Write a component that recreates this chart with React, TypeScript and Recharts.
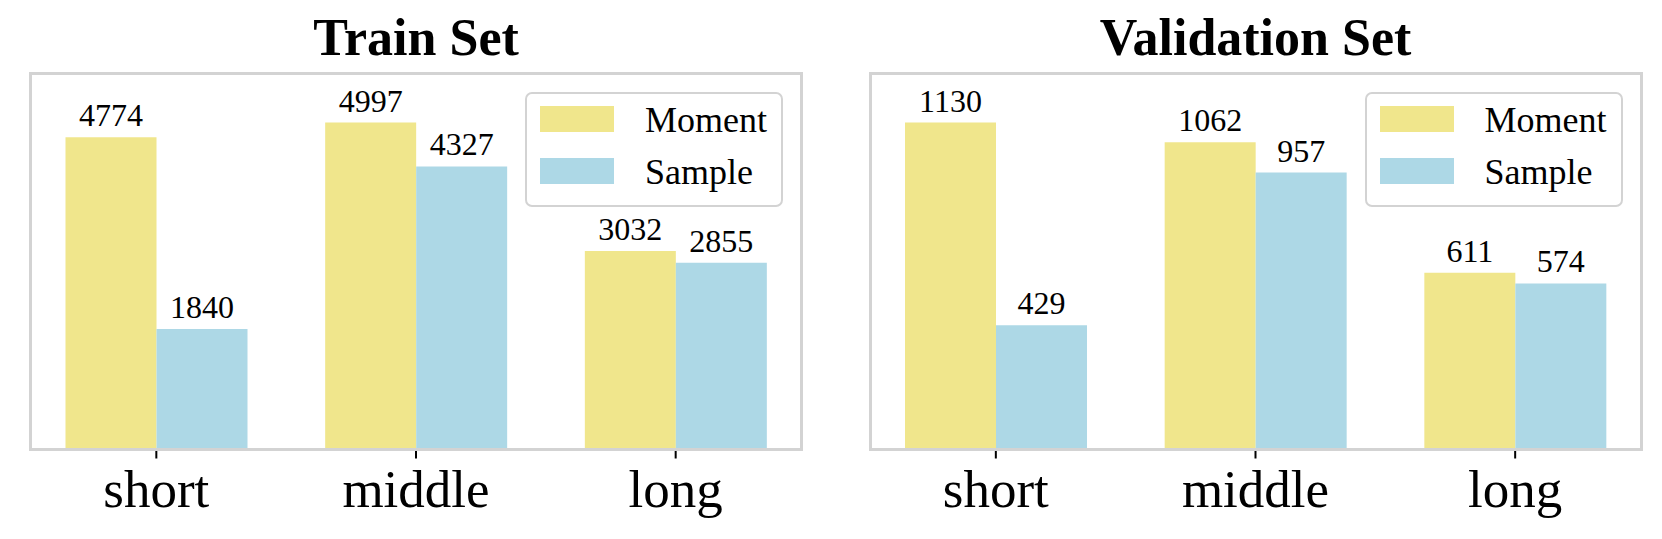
import { BarChart, Bar, XAxis, YAxis, Legend, LabelList } from "recharts";

const CATEGORIES = ["short", "middle", "long"];
const TRAIN_MOMENT = [4774, 4997, 3032];
const TRAIN_SAMPLE = [1840, 4327, 2855];
const VAL_MOMENT = [1130, 1062, 611];
const VAL_SAMPLE = [429, 957, 574];

const SERIF = "'Liberation Serif', 'Times New Roman', serif";
const FRAME = "#d3d3d3";
const MOMENT_COLOR = "#F0E68C";
const SAMPLE_COLOR = "#ADD8E6";

const PANEL_H = 539;
const AXIS_TOP = 73.5;
const AXIS_BOTTOM = 449.5;
const AXIS_W = 771;
const X_AXIS_H = 60;

function LegendBox({ payload }: any) {
  return (
    <div
      style={{
        width: 258,
        height: 115,
        boxSizing: "border-box",
        border: `2px solid ${FRAME}`,
        borderRadius: 7,
        background: "#fff",
        position: "relative",
        fontFamily: SERIF,
        fontSize: 36,
        color: "#000",
      }}
    >
      {(payload || []).map((p: any, i: number) => (
        <div key={p.value} style={{ position: "absolute", left: 13, top: 12 + i * 52, height: 26 }}>
          <div style={{ position: "absolute", left: 0, top: 0, width: 74, height: 26, background: p.color }} />
          <div style={{ position: "absolute", left: 105, top: -4, lineHeight: "36px", whiteSpace: "nowrap" }}>
            {p.value}
          </div>
        </div>
      ))}
    </div>
  );
}

interface PanelProps {
  title: string;
  moment: number[];
  sample: number[];
  left: number;
  axisLeft: number;
}

function Panel({ title, moment, sample, left, axisLeft }: PanelProps) {
  const data = CATEGORIES.map((name, i) => ({ name, Moment: moment[i], Sample: sample[i] }));
  const yMax = Math.max(...moment, ...sample) * 1.15;
  const width = 831;
  const axisRight = axisLeft + AXIS_W;

  return (
    <div style={{ position: "absolute", left, top: 0, width, height: PANEL_H }}>
      {/* title */}
      <div
        style={{
          position: "absolute",
          left: axisLeft,
          width: AXIS_W,
          top: 11.5,
          lineHeight: "52px",
          textAlign: "center",
          fontFamily: SERIF,
          fontWeight: "bold",
          fontSize: 52,
          color: "#000",
        }}
      >
        {title}
      </div>

      <BarChart
        width={width}
        height={PANEL_H}
        data={data}
        barGap={0}
        barSize={91}
        margin={{
          top: AXIS_TOP,
          left: axisLeft,
          right: width - axisRight,
          bottom: PANEL_H - AXIS_BOTTOM - X_AXIS_H,
        }}
      >
        <XAxis
          dataKey="name"
          height={X_AXIS_H}
          interval={0}
          padding={{ left: -4, right: -4 }}
          axisLine={false}
          tickSize={9}
          tickMargin={11}
          tickLine={{ stroke: "#000", strokeWidth: 2 }}
          tick={{ fontSize: 53, fontFamily: SERIF, fill: "#000" }}
        />
        <YAxis hide type="number" domain={[0, yMax]} allowDataOverflow />
        <Legend
          layout="vertical"
          align="center"
          verticalAlign="middle"
          content={<LegendBox />}
          wrapperStyle={{ left: axisRight - 18.5 - 258, top: 92, width: 258 }}
        />
        <Bar dataKey="Moment" fill={MOMENT_COLOR} isAnimationActive={false}>
          <LabelList
            dataKey="Moment"
            position="top"
            offset={11}
            style={{ fontSize: 32, fontFamily: SERIF, fill: "#000" }}
          />
        </Bar>
        <Bar dataKey="Sample" fill={SAMPLE_COLOR} isAnimationActive={false}>
          <LabelList
            dataKey="Sample"
            position="top"
            offset={11}
            style={{ fontSize: 32, fontFamily: SERIF, fill: "#000" }}
          />
        </Bar>
      </BarChart>

      {/* axes frame */}
      <div
        style={{
          position: "absolute",
          left: axisLeft - 1.5,
          top: AXIS_TOP - 1.5,
          width: AXIS_W + 3,
          height: AXIS_BOTTOM - AXIS_TOP + 3,
          boxSizing: "border-box",
          border: `3px solid ${FRAME}`,
          pointerEvents: "none",
        }}
      />
    </div>
  );
}

export default function App() {
  return (
    <div style={{ position: "absolute", left: 0, top: 0, width: 1662, height: 539, background: "#fff" }}>
      <Panel title="Train Set" moment={TRAIN_MOMENT} sample={TRAIN_SAMPLE} left={0} axisLeft={30.5} />
      <Panel title="Validation Set" moment={VAL_MOMENT} sample={VAL_SAMPLE} left={831} axisLeft={39} />
    </div>
  );
}
